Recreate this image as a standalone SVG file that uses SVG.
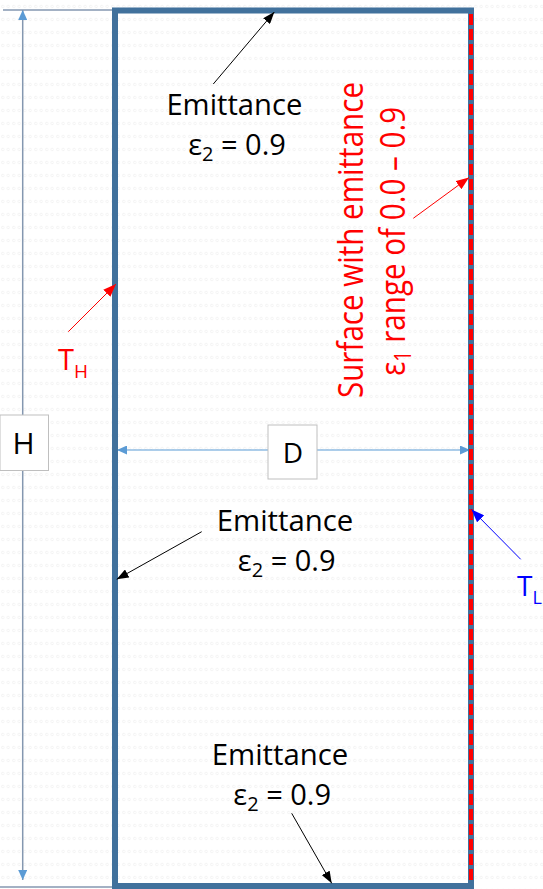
<svg xmlns="http://www.w3.org/2000/svg" width="543" height="889" viewBox="0 0 543 889">
<style>
.lbl{font-family:"Open Sans","Liberation Sans",sans-serif;fill:#000}
.red{fill:#ff0000}
.blue{fill:#0000ff}
.dim{stroke:#8497b0;stroke-width:1.5;fill:none}
</style>
<defs>
<pattern id="bg" width="5.5" height="13" patternUnits="userSpaceOnUse">
<circle cx="2.75" cy="6.5" r="1.3" fill="none" stroke="#f1f1f1" stroke-width="0.8"/>
</pattern>
<marker id="ak" markerWidth="12" markerHeight="9" refX="12" refY="4.5" orient="auto" markerUnits="userSpaceOnUse"><path d="M0,0 L12,4.5 L0,9 z" fill="#000"/></marker>
<marker id="ar" markerWidth="13" markerHeight="10" refX="13" refY="5" orient="auto" markerUnits="userSpaceOnUse"><path d="M0,0 L13,5 L0,10 z" fill="#ff0000"/></marker>
<marker id="ab" markerWidth="13" markerHeight="10" refX="13" refY="5" orient="auto" markerUnits="userSpaceOnUse"><path d="M0,0 L13,5 L0,10 z" fill="#0000ff"/></marker>
<marker id="ad" markerWidth="10" markerHeight="9" refX="10" refY="4.5" orient="auto-start-reverse" markerUnits="userSpaceOnUse"><path d="M0,0 L10,4.5 L0,9 z" fill="#5b9bd5"/></marker>
</defs>
<rect width="543" height="889" fill="#fff"/>
<rect width="543" height="889" fill="url(#bg)"/>

<g id="dimensions">
<line class="dim" x1="3" y1="10" x2="113" y2="10"/>
<line class="dim" x1="0" y1="887" x2="113" y2="887"/>
<line class="dim" x1="22.7" y1="10" x2="22.7" y2="880" marker-start="url(#ad)" marker-end="url(#ad)"/>
<line x1="117" y1="450" x2="470" y2="450" stroke="#5b9bd5" stroke-width="1.2" marker-start="url(#ad)" marker-end="url(#ad)"/>
</g>

<g id="enclosure">
<rect x="115" y="10.5" width="356" height="875.5" fill="none" stroke="#41719c" stroke-width="6"/>
<line x1="471" y1="14" x2="471" y2="883" stroke="#ff0000" stroke-width="4" stroke-dasharray="11 4"/>
</g>

<g id="box-H">
<rect x="0" y="415" width="48.5" height="55.5" fill="#fff" stroke="#bfbfbf" stroke-width="1"/>
<text class="lbl" x="23.5" y="454" font-size="30" text-anchor="middle">H</text>
</g>
<g id="box-D">
<rect x="268" y="425" width="49" height="54" fill="#fff" stroke="#bfbfbf" stroke-width="1"/>
<text class="lbl" x="293" y="463.3" font-size="28" text-anchor="middle">D</text>
</g>

<g id="connectors">
<line x1="213.3" y1="84" x2="274.3" y2="12" stroke="#000" stroke-width="1" marker-end="url(#ak)"/>
<line x1="201.7" y1="531.7" x2="116.7" y2="579.3" stroke="#000" stroke-width="1" marker-end="url(#ak)"/>
<line x1="291.7" y1="813.3" x2="331.7" y2="883.3" stroke="#000" stroke-width="1" marker-end="url(#ak)"/>
<line x1="68.3" y1="331.7" x2="116" y2="284" stroke="#ff0000" stroke-width="1" marker-end="url(#ar)"/>
<line x1="413.3" y1="218.3" x2="469" y2="177.5" stroke="#ff0000" stroke-width="1" marker-end="url(#ar)"/>
<line x1="520.7" y1="559.3" x2="471.5" y2="509.5" stroke="#0000ff" stroke-width="1" marker-end="url(#ab)"/>
</g>

<g id="label-top">
<text class="lbl" x="234.4" y="115" font-size="29" text-anchor="middle" textLength="136" lengthAdjust="spacingAndGlyphs">Emittance</text>
<text class="lbl" x="237" y="155" font-size="29" text-anchor="middle">ε<tspan font-size="20" dy="6">2</tspan><tspan dy="-6"> = 0.9</tspan></text>
</g>
<g id="label-mid">
<text class="lbl" x="285" y="530.7" font-size="29" text-anchor="middle" textLength="136.6" lengthAdjust="spacingAndGlyphs">Emittance</text>
<text class="lbl" x="286.7" y="571" font-size="29" text-anchor="middle">ε<tspan font-size="20" dy="6">2</tspan><tspan dy="-6"> = 0.9</tspan></text>
</g>
<g id="label-bottom">
<text class="lbl" x="280" y="765" font-size="29" text-anchor="middle" textLength="136.6" lengthAdjust="spacingAndGlyphs">Emittance</text>
<text class="lbl" x="282.2" y="805" font-size="29" text-anchor="middle">ε<tspan font-size="20" dy="6">2</tspan><tspan dy="-6"> = 0.9</tspan></text>
</g>

<g id="label-surface">
<text class="lbl red" transform="translate(363,240) rotate(-90)" font-size="35" text-anchor="middle" textLength="316" lengthAdjust="spacingAndGlyphs">Surface with emittance</text>
<text class="lbl red" transform="translate(405,241.3) rotate(-90)" font-size="35" text-anchor="middle" textLength="269" lengthAdjust="spacingAndGlyphs">ε<tspan font-size="23" dy="6">1</tspan><tspan dy="-6"> range of 0.0 – 0.9</tspan></text>
</g>

<g id="label-TH">
<text class="lbl red" x="58" y="370" font-size="29">T<tspan font-size="19" dy="8">H</tspan></text>
</g>
<g id="label-TL">
<text class="lbl blue" x="517" y="596" font-size="28">T<tspan font-size="18" dy="8">L</tspan></text>
</g>
</svg>
